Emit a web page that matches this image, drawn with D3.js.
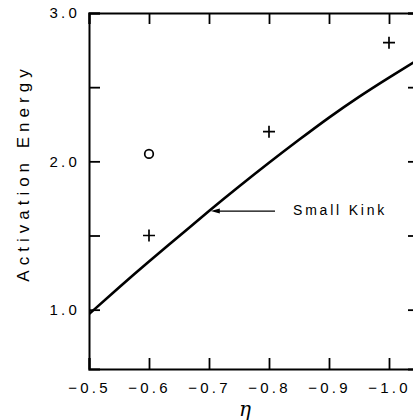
<!DOCTYPE html>
<html>
<head>
<meta charset="utf-8">
<script src="https://cdn.jsdelivr.net/npm/d3@7"></script>
<style>
  body { margin: 0; background: #fff; }
  svg { display: block; }
  text { font-family: "Liberation Sans", Arial, sans-serif; fill: #000; }
</style>
</head>
<body>
<div id="chart"></div>
<script>
var width = 413;
var height = 420;

// tick values
var etaTicks = [-0.5, -0.6, -0.7, -0.8, -0.9, -1.0];
var energyTicks = [1.0, 1.5, 2.0, 2.5, 3.0];

// calculated curve
var curveEta = [-0.5, -0.55, -0.6, -0.65, -0.7, -0.75, -0.8, -0.85, -0.9, -0.95, -1.0, -1.05];
var curveEnergy = [0.97, 1.15, 1.325, 1.495, 1.665, 1.83, 1.99, 2.145, 2.295, 2.435, 2.565, 2.69];

// measured points
var plusEta = [-0.6, -0.8, -1.0];
var plusEnergy = [1.5, 2.2, 2.8];
var circleEta = [-0.6];
var circleEnergy = [2.05];

// annotation
var noteText = "Small Kink";
var noteTipEta = -0.703, noteTailEta = -0.81, noteEnergy = 1.665;
var noteTextEta = -0.84, noteTextEnergy = 1.64;

var x = d3.scaleLinear().domain([-0.5, -1.05]).range([89, 419]);
var y = d3.scaleLinear().domain([0.6, 3.0]).range([369, 13]);

var svg = d3.select("#chart")
    .append("svg")
    .attr("width", width)
    .attr("height", height);

var fmt = d3.format(".1f");

// bottom axis, ticks pointing in
svg.append("g")
    .attr("class", "axis")
    .attr("transform", "translate(0," + y(0.6) + ")")
    .call(d3.axisBottom(x).tickValues(etaTicks).tickSize(-11).tickPadding(13).tickFormat(fmt));
// top axis, no labels
svg.append("g")
    .attr("class", "axis")
    .attr("transform", "translate(0," + y(3.0) + ")")
    .call(d3.axisTop(x).tickValues(etaTicks).tickSize(-11).tickFormat(""));
// left axis
svg.append("g")
    .attr("class", "axis")
    .attr("transform", "translate(" + x(-0.5) + ",0)")
    .call(d3.axisLeft(y).tickValues(energyTicks).tickSize(-11).tickPadding(9)
        .tickFormat(function(d){ return d % 1 === 0 ? fmt(d) : ""; }));
// right axis
svg.append("g")
    .attr("class", "axis")
    .attr("transform", "translate(" + x(-1.05) + ",0)")
    .call(d3.axisRight(y).tickValues(energyTicks).tickSize(-11).tickFormat(""));

svg.selectAll(".axis")
    .attr("font-size", null)
    .attr("font-family", null);
svg.selectAll(".domain").attr("stroke", "#000").attr("stroke-width", 2);
svg.selectAll(".tick line").attr("stroke", "#000").attr("stroke-width", 1.8);
svg.selectAll(".tick text")
    .style("font-size", "15px")
    .style("letter-spacing", "3.2px")
    .style("font-family", "'Liberation Sans', Arial, sans-serif");

// axis titles
svg.append("text")
    .attr("transform", "translate(29,173) rotate(-90)")
    .attr("text-anchor", "middle")
    .style("font-size", "17px")
    .style("letter-spacing", "5px")
    .text("Activation Energy");

svg.append("text")
    .attr("x", x(-0.76))
    .attr("y", 416)
    .attr("text-anchor", "middle")
    .style("font-size", "20px")
    .style("font-style", "italic")
    .style("font-family", "'DejaVu Serif', 'Liberation Serif', serif")
    .text("η");

// curve
var curveData = curveEta.map(function(d, i){ return [d, curveEnergy[i]]; });
var line = d3.line()
    .x(function(d){ return x(d[0]); })
    .y(function(d){ return y(d[1]); })
    .curve(d3.curveNatural);

svg.append("defs").append("clipPath").attr("id", "plotClip")
    .append("rect")
    .attr("x", x(-0.5)).attr("y", y(3.0))
    .attr("width", x(-1.05) - x(-0.5)).attr("height", y(0.6) - y(3.0));

svg.append("path")
    .datum(curveData)
    .attr("clip-path", "url(#plotClip)")
    .attr("fill", "none")
    .attr("stroke", "#000")
    .attr("stroke-width", 2.6)
    .attr("d", line);

// plus markers
var plusData = plusEta.map(function(d, i){ return [d, plusEnergy[i]]; });
svg.selectAll(".plus")
    .data(plusData)
    .enter()
    .append("path")
    .attr("class", "plus")
    .attr("transform", function(d){ return "translate(" + x(d[0]) + "," + y(d[1]) + ")"; })
    .attr("d", "M-6,0H6M0,-6V6")
    .attr("stroke", "#000")
    .attr("stroke-width", 1.7)
    .attr("fill", "none");

// circle markers
var circleData = circleEta.map(function(d, i){ return [d, circleEnergy[i]]; });
svg.selectAll(".open")
    .data(circleData)
    .enter()
    .append("circle")
    .attr("class", "open")
    .attr("cx", function(d){ return x(d[0]); })
    .attr("cy", function(d){ return y(d[1]); })
    .attr("r", 4.3)
    .attr("fill", "none")
    .attr("stroke", "#000")
    .attr("stroke-width", 1.7);

// arrow annotation
svg.append("line")
    .attr("x1", x(noteTailEta)).attr("y1", y(noteEnergy))
    .attr("x2", x(noteTipEta) + 6).attr("y2", y(noteEnergy))
    .attr("stroke", "#000")
    .attr("stroke-width", 1.2);
svg.append("path")
    .attr("transform", "translate(" + x(noteTipEta) + "," + y(noteEnergy) + ")")
    .attr("d", "M0,0L9,-2.5L9,2.5Z")
    .attr("fill", "#000");
svg.append("text")
    .attr("x", x(noteTextEta))
    .attr("y", y(noteTextEnergy))
    .style("font-size", "14px")
    .style("letter-spacing", "2.8px")
    .text(noteText);
</script>
</body>
</html>
